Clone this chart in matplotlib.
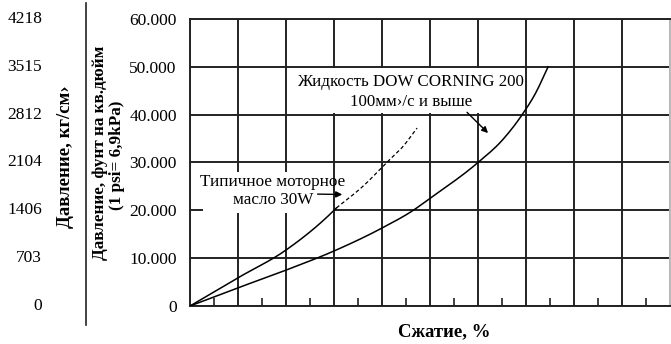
import numpy as np
import matplotlib
matplotlib.use('Agg')
import matplotlib.pyplot as plt
from matplotlib.patches import Rectangle

plt.rcParams['font.family'] = ['Liberation Serif', 'DejaVu Serif']

# pressure axis (psi) and matching kg/cm2 labels
psi_ticks = [0, 10000, 20000, 30000, 40000, 50000, 60000]
psi_labels = ['0', '10.000', '20.000', '30.000', '40.000', '50.000', '60.000']
kg_labels = ['0', '703', '1406', '2104', '2812', '3515', '4218']

# motor oil 30W, solid part and dashed part (x in grid divisions)
oil_x = [0, 1, 2, 3, 3.05]
oil_y = [0, 5900, 11700, 20000, 20500]
oil_dash_x = [3.05, 3.6, 4.1, 4.45, 4.73]
oil_dash_y = [20500, 25000, 30000, 33500, 37200]

# DOW CORNING 200 fluid
dow_x = [0, 1, 2, 3, 4, 4.65, 5, 6, 6.5, 6.92, 7.2, 7.46]
dow_y = [0, 3800, 7500, 11500, 16300, 20000, 22500, 30000, 34600, 40000, 44500, 50000]

W, H = 671, 344
fig = plt.figure(figsize=(W / 100, H / 100), dpi=100)
ax = fig.add_axes([190 / W, (H - 306) / H, 480 / W, 287 / H])


def smooth(xs, ys, n=200):
    # piecewise cubic hermite through the read points
    xs = np.asarray(xs, float)
    ys = np.asarray(ys, float)
    d = np.gradient(ys, xs)
    t = np.linspace(xs[0], xs[-1], n)
    out = np.empty_like(t)
    for k, tv in enumerate(t):
        i = min(np.searchsorted(xs, tv, side='right') - 1, len(xs) - 2)
        h = xs[i + 1] - xs[i]
        s = (tv - xs[i]) / h
        h00 = 2 * s**3 - 3 * s**2 + 1
        h10 = s**3 - 2 * s**2 + s
        h01 = -2 * s**3 + 3 * s**2
        h11 = s**3 - s**2
        out[k] = h00 * ys[i] + h10 * h * d[i] + h01 * ys[i + 1] + h11 * h * d[i + 1]
    return t, out


ax.plot(*smooth(oil_x, oil_y), color='black', lw=1.1, zorder=3)
ax.plot(*smooth(oil_dash_x, oil_dash_y), color='black', lw=0.9, ls=(0, (3, 2)), zorder=3)
ax.plot(*smooth(dow_x, dow_y), color='black', lw=1.1, zorder=3)

ax.set_xlim(0, 10)
ax.set_ylim(0, 60000)
ax.set_xticks(np.arange(0, 11, 1))
ax.set_xticks(np.arange(0.5, 10, 1), minor=True)
ax.set_yticks(psi_ticks)
ax.set_yticklabels(psi_labels, fontsize=12.5)
ax.tick_params(axis='x', which='major', length=0, labelbottom=False)
ax.tick_params(axis='x', which='minor', direction='in', length=6, width=1.2, color='#222222')
ax.tick_params(axis='y', length=0, pad=9.5)
ax.grid(True, which='major', color='#222222', lw=1.4)
for sp in ax.spines.values():
    sp.set_color('#222222')
    sp.set_linewidth(1.4)
ax.spines['right'].set_color('#bbbbbb')
ax.set_axisbelow(True)

# white areas behind the labels (they hide the grid)
ax.add_patch(Rectangle((2.23, 40350), 4.75, 9350, facecolor='white', edgecolor='none', zorder=1.5))
ax.add_patch(Rectangle((0.27, 19400), 2.71, 8600, facecolor='white', edgecolor='none', zorder=1.5))

ax.text(4.6, 46830, 'Жидкость DOW CORNING 200', ha='center', va='center', fontsize=12.2, zorder=2)
ax.text(4.6, 42650, '100мм›/с и выше', ha='center', va='center', fontsize=12.2, zorder=2)
ax.annotate('', xy=(6.25, 35750), xytext=(5.73, 40900),
            arrowprops=dict(arrowstyle='-|>', color='black', lw=1.0, mutation_scale=9), zorder=4)

ax.text(1.73, 25920, 'Типичное моторное', ha='center', va='center', fontsize=12.3, zorder=2)
ax.text(1.73, 22160, 'масло 30W', ha='center', va='center', fontsize=12.3, zorder=2)
ax.annotate('', xy=(3.23, 23300), xytext=(2.6, 23400),
            arrowprops=dict(arrowstyle='-|>', color='black', lw=1.0, mutation_scale=9), zorder=4)

# left kg/cm2 scale as plain text
for val, lab in zip(psi_ticks, kg_labels):
    y = (H - 306 + val / 60000 * 287) / H
    fig.text(42 / W, y, lab, ha='right', va='center', fontsize=12.5)

fig.add_artist(plt.Line2D([86 / W, 86 / W], [(H - 325) / H, (H - 3) / H], color='#222222', lw=1.2))

fig.text(66 / W, (H - 157) / H, 'Давление, кг/см›', rotation=90, ha='center', va='center',
         fontsize=13.5, fontweight='bold')
fig.text(100 / W, (H - 153) / H, 'Давление, фунт на кв.дюйм', rotation=90, ha='center', va='center',
         fontsize=12.3, fontweight='bold')
fig.text(117 / W, (H - 155) / H, '(1 psi= 6,9kPa)', rotation=90, ha='center', va='center',
         fontsize=12.3, fontweight='bold')

fig.text(444 / W, (H - 332) / H, 'Сжатие, %', ha='center', va='center', fontsize=13.5, fontweight='bold')

fig.savefig('out.png', dpi=100)
